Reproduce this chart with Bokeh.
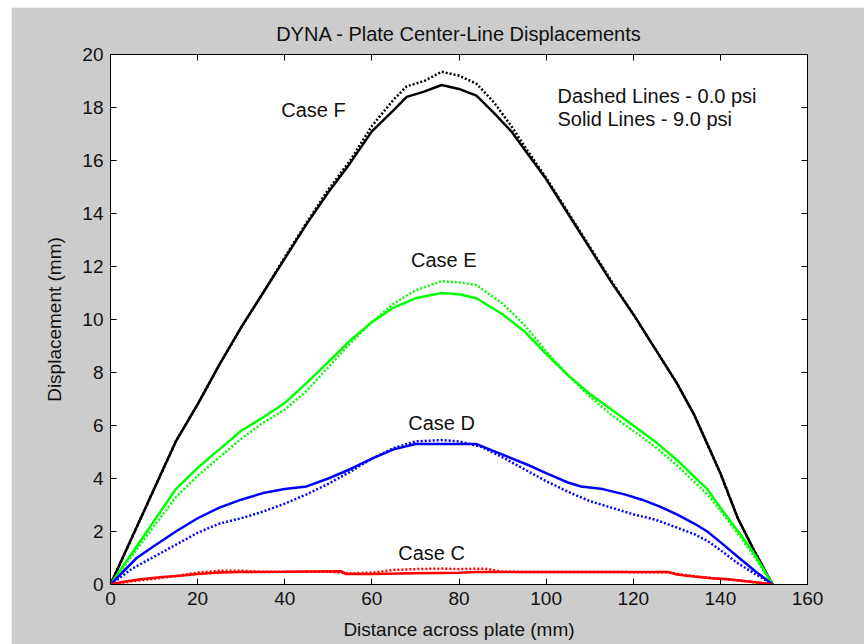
from bokeh.plotting import figure
from bokeh.models import LinearAxis, FixedTicker, Label
from bokeh.embed import file_html
from bokeh.resources import INLINE

# Centre-line displacement (mm) versus distance across plate (mm)
# Solid lines: 9.0 psi, dashed lines: 0.0 psi
f_x = [0, 5, 10, 15, 20, 25, 30, 35, 40, 45, 50, 55, 60, 65, 68, 72, 76, 80, 84, 88, 92, 96,
       100, 105, 110, 115, 120, 125, 130, 134, 137, 140, 144, 148, 152]
f_solid = [0, 1.8, 3.6, 5.4, 6.8, 8.3, 9.7, 11.0, 12.3, 13.6, 14.8, 15.9, 17.1, 17.9, 18.4, 18.6,
           18.85, 18.7, 18.45, 17.8, 17.1, 16.2, 15.3, 14.0, 12.7, 11.4, 10.2, 8.9, 7.6, 6.4, 5.3,
           4.2, 2.5, 1.2, 0]
f_dashed = [0, 1.8, 3.6, 5.4, 6.8, 8.3, 9.7, 11.0, 12.35, 13.65, 14.9, 16.0, 17.3, 18.3, 18.8, 19.0,
            19.35, 19.2, 18.9, 18.2, 17.3, 16.3, 15.35, 14.05, 12.75, 11.45, 10.2, 8.9, 7.6, 6.4,
            5.3, 4.2, 2.5, 1.2, 0]

e_x = [0, 5, 10, 15, 20, 25, 30, 35, 40, 45, 50, 55, 60, 65, 70, 76, 80, 84, 90, 95, 100, 105,
       110, 115, 120, 125, 130, 137, 140, 145, 148, 152]
e_solid = [0, 1.2, 2.4, 3.6, 4.4, 5.1, 5.8, 6.3, 6.85, 7.6, 8.4, 9.2, 9.9, 10.45, 10.8, 11.0,
           10.95, 10.8, 10.2, 9.55, 8.7, 7.9, 7.2, 6.6, 6.0, 5.4, 4.7, 3.6, 2.9, 1.8, 1.1, 0]
e_dashed = [0, 1.1, 2.2, 3.3, 4.1, 4.8, 5.5, 6.1, 6.6, 7.3, 8.2, 9.1, 9.9, 10.6, 11.1, 11.45,
            11.4, 11.3, 10.6, 9.8, 8.8, 7.9, 7.1, 6.4, 5.8, 5.2, 4.5, 3.4, 2.8, 1.7, 1.0, 0]

d_x_solid = [0, 3, 6, 10, 15, 20, 25, 30, 35, 40, 45, 50, 55, 60, 65, 70, 76, 84, 90, 96, 100,
             105, 108, 113, 118, 122, 126, 130, 134, 137, 140, 144, 148, 152]
d_solid = [0, 0.5, 1.0, 1.45, 2.0, 2.5, 2.9, 3.2, 3.45, 3.6, 3.7, 4.0, 4.35, 4.75, 5.1, 5.3, 5.3,
           5.3, 4.9, 4.5, 4.2, 3.85, 3.7, 3.6, 3.4, 3.2, 2.95, 2.65, 2.3, 2.0, 1.6, 1.05, 0.5, 0]
d_x_dashed = [0, 5, 10, 15, 20, 25, 30, 35, 40, 45, 50, 55, 60, 65, 70, 76, 80, 85, 90, 95, 100,
              105, 110, 115, 120, 125, 130, 134, 137, 140, 144, 148, 152]
d_dashed = [0, 0.6, 1.05, 1.5, 1.95, 2.3, 2.5, 2.75, 3.05, 3.4, 3.8, 4.25, 4.75, 5.15, 5.4, 5.45,
            5.4, 5.2, 4.8, 4.35, 3.9, 3.5, 3.15, 2.9, 2.65, 2.45, 2.15, 1.9, 1.65, 1.3, 0.8, 0.4, 0]

c_x_solid = [0, 3, 7, 12, 16, 20, 25, 30, 40, 53, 54, 60, 70, 80, 84, 100, 115, 128, 130, 134,
             138, 142, 146, 150, 152]
c_solid = [0, 0.1, 0.2, 0.28, 0.33, 0.4, 0.45, 0.47, 0.48, 0.5, 0.4, 0.4, 0.42, 0.44, 0.47, 0.47,
           0.47, 0.47, 0.38, 0.3, 0.24, 0.2, 0.12, 0.05, 0]
c_x_dashed = [0, 5, 10, 15, 20, 25, 30, 35, 40, 50, 55, 60, 65, 70, 76, 80, 86, 90, 100, 115,
              128, 132, 138, 146, 152]
c_dashed = [0, 0.12, 0.22, 0.32, 0.45, 0.52, 0.52, 0.48, 0.48, 0.48, 0.42, 0.45, 0.55, 0.58, 0.6,
            0.58, 0.6, 0.48, 0.47, 0.47, 0.46, 0.35, 0.24, 0.12, 0]

x_ticks = [0, 20, 40, 60, 80, 100, 120, 140, 160]
y_ticks = [0, 2, 4, 6, 8, 10, 12, 14, 16, 18, 20]

FONT = "Liberation Sans"
BG = "#cccccc"

p = figure(width=853, height=637, x_range=(0, 160), y_range=(0, 20),
           output_backend="svg", toolbar_location=None,
           min_border_left=99, min_border_right=57, min_border_top=47, min_border_bottom=60,
           title="DYNA - Plate Center-Line Displacements")
p.margin = (7, 0, 0, 11)
p.border_fill_color = BG
p.background_fill_color = "white"
p.outline_line_color = "black"
p.outline_line_width = 1
p.grid.visible = False

p.title.align = "center"
p.title.text_font = FONT
p.title.text_font_size = "20px"
p.title.text_font_style = "normal"
p.title.text_color = "#111111"
p.title.standoff = 20

def style_axis(ax, labels=True):
    ax.axis_line_color = "black"
    ax.major_tick_line_color = "black"
    ax.major_tick_in = 6
    ax.major_tick_out = 0
    ax.minor_tick_line_color = None
    ax.major_label_text_font = FONT
    ax.major_label_text_color = "#111111"
    ax.axis_label_text_font = FONT
    ax.axis_label_text_font_style = "normal"
    ax.axis_label_text_font_size = "19px"
    ax.axis_label_text_color = "#111111"
    if labels:
        ax.major_label_text_font_size = "19px"
        ax.major_label_standoff = 7
    else:
        ax.major_label_text_font_size = "1px"
        ax.major_label_text_color = None
        ax.major_label_standoff = 0

xa = p.xaxis[0]
ya = p.yaxis[0]
xa.ticker = FixedTicker(ticks=x_ticks)
ya.ticker = FixedTicker(ticks=y_ticks)
xa.axis_label = "Distance across plate (mm)"
ya.axis_label = "Displacement (mm)"
style_axis(xa)
style_axis(ya)
xa.axis_label_standoff = 11
ya.axis_label_standoff = 14

top = LinearAxis(ticker=FixedTicker(ticks=x_ticks))
right = LinearAxis(ticker=FixedTicker(ticks=y_ticks))
style_axis(top, labels=False)
style_axis(right, labels=False)
p.add_layout(top, "above")
p.add_layout(right, "right")

DASH = "2 2"
series = [
    ("black", f_x, f_dashed, f_x, f_solid),
    ("#00ff00", e_x, e_dashed, e_x, e_solid),
    ("#0000ff", d_x_dashed, d_dashed, d_x_solid, d_solid),
    ("#ff0000", c_x_dashed, c_dashed, c_x_solid, c_solid),
]
for color, xd, yd, xs, ys in series:
    p.line(xd, yd, line_color=color, line_width=2.5, line_dash=DASH)
    p.line(xs, ys, line_color=color, line_width=2.5)

notes = [
    ("Case F", 46.6, 17.9, "center"),
    ("Case E", 76.5, 12.25, "center"),
    ("Case D", 76.0, 6.1, "center"),
    ("Case C", 73.7, 1.2, "center"),
    ("Dashed Lines - 0.0 psi", 102.6, 18.45, "left"),
    ("Solid Lines - 9.0 psi", 102.6, 17.55, "left"),
]
for txt, x, y, align in notes:
    p.add_layout(Label(x=x, y=y, text=txt, text_font=FONT, text_font_size="20px",
                       text_align=align, text_baseline="middle", text_color="#111111"))

open("out.html", "w").write(file_html(p, INLINE))
